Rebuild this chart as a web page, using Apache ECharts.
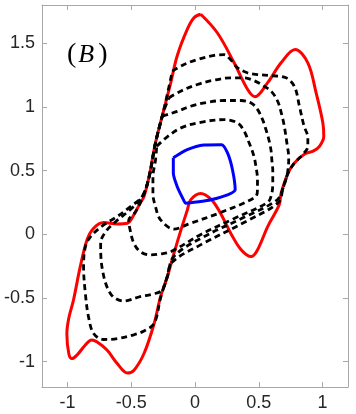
<!DOCTYPE html>
<html>
<head>
<meta charset="utf-8">
<script src="https://cdn.jsdelivr.net/npm/echarts@6/dist/echarts.min.js"></script>
<style>
  html, body { margin: 0; padding: 0; background: #fff; }
  #box { width: 356px; height: 414px; }
</style>
</head>
<body>
<div id="box"></div>
<script>
// tick values
const xTicks = [-1, -0.5, 0, 0.5, 1];
const yTicks = [-1, -0.5, 0, 0.5, 1, 1.5];

// red outer loop
const redCurve = [
  [0.045, 1.727], [0.176, 1.58], [0.307, 1.346], [0.413, 1.136], [0.47, 1.08],
  [0.57, 1.19], [0.675, 1.346], [0.785, 1.45], [0.885, 1.346], [0.95, 1.11],
  [1.003, 0.874], [1.01, 0.77], [0.976, 0.69], [0.93, 0.655], [0.86, 0.63],
  [0.78, 0.56], [0.73, 0.48], [0.675, 0.32], [0.66, 0.23], [0.57, 0.06],
  [0.49, -0.124], [0.44, -0.176], [0.36, -0.12], [0.28, 0.008], [0.2, 0.165],
  [0.13, 0.27], [0.045, 0.32], [-0.034, 0.27], [-0.06, 0.19], [-0.11, 0.034],
  [-0.165, -0.15], [-0.217, -0.334], [-0.27, -0.49], [-0.32, -0.7], [-0.4, -0.937],
  [-0.48, -1.07], [-0.53, -1.09], [-0.61, -1.016], [-0.69, -0.91], [-0.77, -0.845],
  [-0.81, -0.83], [-0.86, -0.87], [-0.926, -0.95], [-0.965, -0.977], [-0.99, -0.937],
  [-1.005, -0.78], [-0.99, -0.66], [-0.953, -0.517], [-0.9, -0.255], [-0.847, -0.045],
  [-0.795, 0.047], [-0.717, 0.091], [-0.61, 0.081], [-0.53, 0.086], [-0.48, 0.152],
  [-0.43, 0.244], [-0.4, 0.296], [-0.36, 0.453], [-0.31, 0.716], [-0.244, 0.979],
  [-0.19, 1.19], [-0.14, 1.4], [-0.06, 1.61], [-0.008, 1.7], [0.045, 1.727]
];

// blue inner loop
const blueCurve = [
  [-0.17, 0.6], [-0.06, 0.664], [0.07, 0.7], [0.208, 0.703], [0.255, 0.638],
  [0.294, 0.506], [0.315, 0.349], [0.255, 0.309], [0.124, 0.27], [0.045, 0.257],
  [-0.073, 0.244], [-0.09, 0.27], [-0.14, 0.375], [-0.17, 0.48], [-0.17, 0.6]
];

// dashed loops, outermost first
const dash1 = [
  [-0.178, 1.28], [-0.086, 1.333], [0.019, 1.372], [0.15, 1.404], [0.228, 1.41],
  [0.28, 1.37], [0.334, 1.307], [0.41, 1.268], [0.49, 1.254], [0.6, 1.245],
  [0.714, 1.228], [0.78, 1.16], [0.82, 1.0], [0.855, 0.85], [0.885, 0.76],
  [0.885, 0.69], [0.84, 0.62], [0.78, 0.56], [0.73, 0.48], [0.69, 0.36],
  [0.655, 0.25], [0.4, 0.1], [0.05, -0.08], [-0.18, -0.22], [-0.22, -0.34],
  [-0.27, -0.5], [-0.32, -0.7], [-0.4, -0.76], [-0.48, -0.79], [-0.61, -0.82],
  [-0.717, -0.827], [-0.795, -0.78], [-0.835, -0.65], [-0.86, -0.465], [-0.874, -0.255],
  [-0.86, -0.1], [-0.82, -0.02], [-0.717, 0.073], [-0.61, 0.139], [-0.506, 0.217],
  [-0.414, 0.296], [-0.36, 0.45], [-0.31, 0.716], [-0.244, 0.979], [-0.178, 1.28]
];
const dash2 = [
  [-0.205, 1.07], [-0.113, 1.123], [0.019, 1.176], [0.15, 1.21], [0.28, 1.228],
  [0.386, 1.228], [0.465, 1.205], [0.53, 1.17], [0.6, 1.12], [0.65, 1.04],
  [0.68, 0.94], [0.7, 0.85], [0.72, 0.72], [0.735, 0.6], [0.725, 0.48],
  [0.69, 0.36], [0.645, 0.27], [0.4, 0.14], [0.05, -0.03], [-0.17, -0.18],
  [-0.217, -0.334], [-0.26, -0.44], [-0.33, -0.47], [-0.43, -0.49], [-0.56, -0.525],
  [-0.664, -0.465], [-0.73, -0.255], [-0.74, -0.07], [-0.7, 0.02], [-0.62, 0.1],
  [-0.5, 0.2], [-0.41, 0.3], [-0.36, 0.45], [-0.31, 0.716], [-0.25, 0.95], [-0.205, 1.07]
];
const dash3 = [
  [-0.257, 0.926], [-0.139, 0.965], [-0.034, 1.005], [0.098, 1.036], [0.228, 1.05],
  [0.36, 1.05], [0.44, 1.03], [0.49, 0.98], [0.53, 0.9], [0.557, 0.82],
  [0.58, 0.74], [0.596, 0.66], [0.603, 0.58], [0.61, 0.5], [0.61, 0.4],
  [0.6, 0.31], [0.57, 0.25], [0.3, 0.12], [0.05, 0.0], [-0.19, -0.137],
  [-0.27, -0.155], [-0.35, -0.163], [-0.43, -0.137], [-0.48, -0.07], [-0.506, 0.02],
  [-0.52, 0.11], [-0.47, 0.17], [-0.41, 0.29], [-0.36, 0.45], [-0.31, 0.716], [-0.257, 0.926]
];
const dash4 = [
  [-0.3, 0.69], [-0.23, 0.755], [-0.11, 0.835], [0.045, 0.879], [0.228, 0.9],
  [0.334, 0.874], [0.386, 0.808], [0.425, 0.716], [0.46, 0.62], [0.478, 0.532],
  [0.49, 0.43], [0.49, 0.35], [0.47, 0.29], [0.2, 0.17], [-0.05, 0.08],
  [-0.165, 0.04], [-0.27, 0.113], [-0.31, 0.217], [-0.33, 0.32], [-0.33, 0.45],
  [-0.31, 0.58], [-0.3, 0.69]
];

var myChart = echarts.init(document.getElementById("box"));

var axisLine = { show: true, onZero: false, lineStyle: { color: "#a8a8a8", width: 1 } };
var tickStyle = { show: true, inside: true, length: 5, lineStyle: { color: "#a8a8a8" } };
var labelStyle = { color: "#262626", fontSize: 18, fontFamily: "Liberation Sans" };

function loop(data, color, dashed) {
  return {
    type: "line",
    data: data,
    smooth: 0.35,
    showSymbol: false,
    symbol: "none",
    silent: true,
    lineStyle: {
      color: color,
      width: dashed ? 2.8 : 3,
      type: dashed ? [6, 4] : "solid",
      cap: "butt"
    },
    z: dashed ? 3 : 2
  };
}

let option = {
  animation: false,
  grid: { left: 42, right: 8, top: 5, bottom: 27 },
  xAxis: [
    {
      type: "value", min: -1.2, max: 1.2, position: "bottom",
      axisLine: axisLine,
      axisTick: Object.assign({ customValues: xTicks }, tickStyle),
      axisLabel: Object.assign({ customValues: xTicks, margin: 7 }, labelStyle),
      splitLine: { show: false }
    },
    {
      type: "value", min: -1.2, max: 1.2, position: "top",
      axisLine: axisLine,
      axisTick: Object.assign({ customValues: xTicks }, tickStyle),
      axisLabel: { show: false },
      splitLine: { show: false }
    }
  ],
  yAxis: [
    {
      type: "value", min: -1.2, max: 1.8, position: "left",
      axisLine: axisLine,
      axisTick: Object.assign({ customValues: yTicks }, tickStyle),
      axisLabel: Object.assign({ customValues: yTicks, margin: 7 }, labelStyle),
      splitLine: { show: false }
    },
    {
      type: "value", min: -1.2, max: 1.8, position: "right",
      axisLine: axisLine,
      axisTick: Object.assign({ customValues: yTicks }, tickStyle),
      axisLabel: { show: false },
      splitLine: { show: false }
    }
  ],
  graphic: [
    {
      type: "text",
      left: 67,
      top: 41,
      style: {
        text: "{p|(}{b|B}{p|)}",
        rich: {
          p: { fontFamily: "Liberation Serif", fontSize: 28, fill: "#000" },
          b: { fontFamily: "Liberation Serif", fontStyle: "italic", fontSize: 26, fill: "#000", padding: [0, 4, 0, 2] }
        }
      }
    }
  ],
  series: [
    loop(redCurve, "#ff0000", false),
    loop(dash1, "#000000", true),
    loop(dash2, "#000000", true),
    loop(dash3, "#000000", true),
    loop(dash4, "#000000", true),
    Object.assign(loop(blueCurve, "#0000ff", false), { smooth: 0.25, z: 4 })
  ]
};
myChart.setOption(option);
</script>
</body>
</html>
